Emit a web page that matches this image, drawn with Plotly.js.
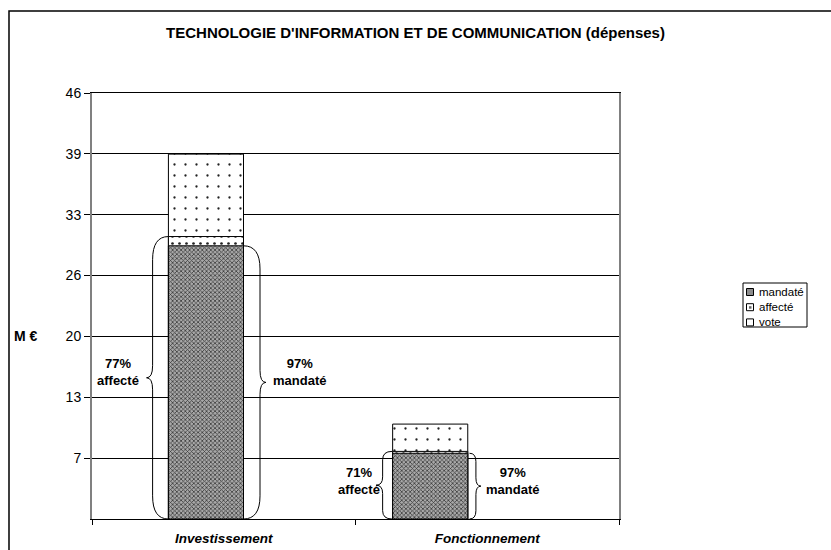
<!DOCTYPE html>
<html>
<head>
<meta charset="utf-8">
<script src="https://cdn.plot.ly/plotly-3.0.1.min.js"></script>
<style>html,body{margin:0;padding:0;background:#fff;}#chart{width:831px;height:550px;}</style>
</head>
<body>
<div id="chart"></div>
<script>
// ---- data ----
const categories = ['Investissement', 'Fonctionnement'];
const seriesNames = ['vote', 'affecté', 'mandaté'];
const vote = [39.4, 10.25];
const affecte = [30.5, 7.3];
const mandate = [29.5, 7.1];
const pctAffecte = ['77%', '71%'];
const pctMandate = ['97%', '97%'];
const yTickLabels = ['7', '13', '20', '26', '33', '39', '46'];
const yMax = 46;

// ---- layout helpers ----
const FONT = 'Arial, "Liberation Sans", sans-serif';
const xPos = categories.map((c, i) => i);
const barWidth = 0.285;
const barOffset = [-0.21, -0.359];
const yTickVals = yTickLabels.map((t, i) => yMax * (i + 1) / yTickLabels.length);

function barTrace(name, values, color, pattern) {
  return {
    type: 'bar', name: name, x: xPos, y: values,
    width: barWidth, offset: barOffset, showlegend: false,
    marker: {color: color, line: {color: '#000', width: 1}, pattern: pattern},
    hoverinfo: 'skip'
  };
}

const traces = [
  barTrace(seriesNames[0], vote, '#ffffff', {shape: '.', size: 11, solidity: 0.035, fgcolor: '#222', bgcolor: '#fff', fillmode: 'replace'}),
  barTrace(seriesNames[1], affecte, '#ffffff', {shape: '.', size: 7, solidity: 0.12, fgcolor: '#222', bgcolor: '#fff', fillmode: 'replace'}),
  barTrace(seriesNames[2], mandate, '#8c8c8c', {shape: 'x', size: 3, solidity: 0.45, fgcolor: '#3a3a3a', bgcolor: '#a8a8a8', fillmode: 'replace'})
];

// curly brace path in data coordinates
function brace(xe, xm, xt, y0, y1, rEnd, rMid) {
  const ym = (y0 + y1) / 2;
  return `M ${xe},${y1} Q ${xm},${y1} ${xm},${y1 - rEnd} L ${xm},${ym + rMid} ` +
         `Q ${xm},${ym} ${xt},${ym} Q ${xm},${ym} ${xm},${ym - rMid} ` +
         `L ${xm},${y0 + rEnd} Q ${xm},${y0} ${xe},${y0}`;
}

const braceSpecs = [
  // [xe, xm, xt, top value, rEnd, rMid]
  [xPos[0] - 0.21, xPos[0] - 0.270, xPos[0] - 0.293, affecte[0], 2.5, 1.3],
  [xPos[0] + 0.075, xPos[0] + 0.1376, xPos[0] + 0.160, mandate[0], 2.5, 1.3],
  [xPos[1] - 0.3615, xPos[1] - 0.397, xPos[1] - 0.422, affecte[1], 0.9, 0.9],
  [xPos[1] - 0.0674, xPos[1] - 0.043, xPos[1] - 0.024, mandate[1], 0.9, 0.9]
];

const shapes = braceSpecs.map(s => ({
  type: 'path', xref: 'x', yref: 'y', layer: 'above',
  path: brace(s[0], s[1], s[2], 0, s[3], s[4], s[5]),
  line: {color: '#000', width: 1}
}));
// outer chart border
shapes.push({type: 'rect', xref: 'paper', yref: 'paper', x0: -0.1575, x1: 1.6, y0: -0.3, y1: 1.1925,
  line: {color: '#000', width: 1.5}, layer: 'below'});

// ---- manual legend (pixel -> paper helpers) ----
const PL = 92, PR = 619, PT = 93, PB = 519;
const px2x = p => (p - PL) / (PR - PL);
const px2y = p => (PB - p) / (PB - PT);
shapes.push({type: 'rect', xref: 'paper', yref: 'paper', x0: px2x(743), x1: px2x(807), y0: px2y(327), y1: px2y(283),
  line: {color: '#000', width: 1}, fillcolor: '#fff', layer: 'above'});
const legendOrder = [2, 1, 0];
const legendFill = ['#ffffff', '#ffffff', '#8c8c8c'];
const annotations = [];
legendOrder.forEach((si, k) => {
  const cy = 292 + k * 15.2;
  shapes.push({type: 'rect', xref: 'paper', yref: 'paper', x0: px2x(746.5), x1: px2x(753.5), y0: px2y(cy + 3.5), y1: px2y(cy - 3.5),
    line: {color: '#000', width: 1}, fillcolor: legendFill[si], layer: 'above'});
  if (si === 1) {
    shapes.push({type: 'rect', xref: 'paper', yref: 'paper', x0: px2x(749), x1: px2x(751.5), y0: px2y(cy + 1.5), y1: px2y(cy - 1),
      line: {width: 0}, fillcolor: '#666', layer: 'above'});
  }
  annotations.push({xref: 'paper', yref: 'paper', x: px2x(756.5), y: px2y(cy), xanchor: 'left', yanchor: 'middle',
    text: seriesNames[si], showarrow: false, font: {family: FONT, size: 11.5, color: '#000'}});
});

const annFont = {family: FONT, size: 13, color: '#000', weight: 'bold'};
[
  {x: xPos[0] - 0.401, y: 15.9, text: pctAffecte[0] + '<br>affecté'},
  {x: xPos[0] + 0.289, y: 15.9, text: pctMandate[0] + '<br>mandaté'},
  {x: xPos[1] - 0.487, y: 4.1, text: pctAffecte[1] + '<br>affecté'},
  {x: xPos[1] + 0.094, y: 4.1, text: pctMandate[1] + '<br>mandaté'}
].forEach(a => annotations.push(Object.assign({xref: 'x', yref: 'y', showarrow: false, font: annFont, align: 'center', xanchor: 'center'}, a)));
annotations.push({xref: 'paper', yref: 'paper', x: px2x(25.5), y: px2y(336), xanchor: 'center', yanchor: 'middle',
  text: 'M €', showarrow: false, font: {family: FONT, size: 14, color: '#000', weight: 'bold'}});

const layout = {
  width: 831, height: 550, autosize: false,
  margin: {l: PL, r: 831 - PR, t: PT, b: 550 - PB, pad: 0},
  paper_bgcolor: '#fff', plot_bgcolor: '#fff',
  font: {family: FONT, size: 11, color: '#000'},
  title: {text: "TECHNOLOGIE D'INFORMATION ET DE COMMUNICATION (dépenses)",
    font: {family: FONT, size: 15, color: '#000', weight: 'bold'},
    x: 0.5, xref: 'container', y: 1 - 33 / 550, yref: 'container', yanchor: 'middle'},
  barmode: 'overlay',
  showlegend: false,
  xaxis: {
    type: 'linear', range: [-0.5, 1.5], fixedrange: true,
    tickvals: xPos, ticktext: categories, ticks: '', ticklabelstandoff: 7,
    tickfont: {family: FONT, size: 13.5, color: '#000', weight: 'bold', style: 'italic'},
    showgrid: false, zeroline: false,
    showline: true, linecolor: '#000', linewidth: 1, mirror: true,
    minor: {tick0: -0.5, dtick: 1, ticks: 'outside', ticklen: 5, tickcolor: '#000', showgrid: false}
  },
  yaxis: {
    range: [0, yMax], fixedrange: true,
    tickvals: yTickVals, ticktext: yTickLabels,
    ticks: 'outside', ticklen: 6, tickcolor: '#000',
    tickfont: {family: FONT, size: 14, color: '#000'},
    showgrid: true, gridcolor: '#000', gridwidth: 1, zeroline: false,
    showline: true, linecolor: '#808080', linewidth: 2, mirror: true
  },
  shapes: shapes,
  annotations: annotations
};

Plotly.newPlot('chart', traces, layout, {staticPlot: true, displayModeBar: false});
</script>
</body>
</html>
